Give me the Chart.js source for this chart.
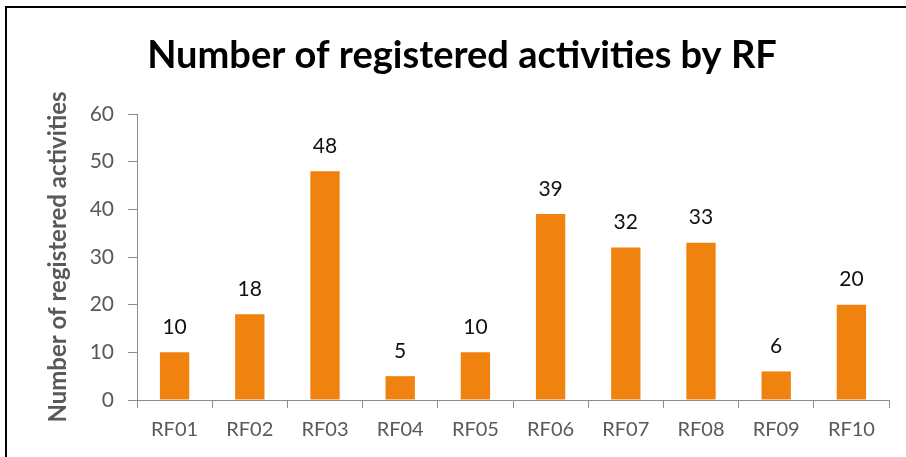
<!DOCTYPE html>
<html>
<head>
<meta charset="utf-8">
<script src="https://cdn.jsdelivr.net/npm/chart.js@4.4.1/dist/chart.umd.min.js"></script>
<style>
  html, body { margin:0; padding:0; background:#fff; overflow:hidden; }
</style>
</head>
<body>
<canvas id="chart" width="906" height="457"></canvas>
<script>
// chart data
const CATEGORIES = ["RF01","RF02","RF03","RF04","RF05","RF06","RF07","RF08","RF09","RF10"];
const ACTIVITIES = [10, 18, 48, 5, 10, 39, 32, 33, 6, 20];
const Y_TICKS = [0, 10, 20, 30, 40, 50, 60];

const TITLE = "Number of registered activities by RF";
const Y_TITLE = "Number of registered activities";
const BAR_COLOR = "#F0820F";
const AXIS_COLOR = "#8C8C8C";
const TEXT_GRAY = "#595959";
const FONT = "Lato, 'Open Sans', sans-serif";

// frame (top + left edge only), title and value labels
const labelsPlugin = {
  id: 'labels',
  beforeDraw(chart) {
    const ctx = chart.ctx;
    ctx.save();
    ctx.fillStyle = "#fff";
    ctx.fillRect(0, 0, chart.width, chart.height);
    ctx.strokeStyle = "#000";
    ctx.lineWidth = 2;
    ctx.beginPath();
    ctx.moveTo(6, chart.height);
    ctx.lineTo(6, 7);
    ctx.lineTo(chart.width, 7);
    ctx.stroke();
    ctx.restore();
  },
  afterDatasetsDraw(chart) {
    const ctx = chart.ctx;
    ctx.save();
    ctx.fillStyle = "#000";
    ctx.font = "bold 38px " + FONT;
    ctx.textAlign = "center";
    ctx.textBaseline = "alphabetic";
    ctx.fillText(TITLE, 462, 68);

    ctx.font = "21px " + FONT;
    ctx.fillStyle = "#111";
    ctx.textBaseline = "middle";
    chart.getDatasetMeta(0).data.forEach((bar, i) => {
      ctx.fillText(String(ACTIVITIES[i]), bar.x, bar.y - 25);
    });
    ctx.restore();
  }
};

new Chart(document.getElementById('chart').getContext('2d'), {
  type: 'bar',
  data: {
    labels: CATEGORIES,
    datasets: [{
      data: ACTIVITIES,
      backgroundColor: BAR_COLOR,
      categoryPercentage: 1,
      barPercentage: 0.39
    }]
  },
  options: {
    responsive: false,
    animation: false,
    layout: { padding: { top: 114, right: 17, bottom: 0, left: 44 } },
    plugins: { legend: { display: false }, tooltip: { enabled: false }, title: { display: false } },
    scales: {
      x: {
        grid: { display: true, drawOnChartArea: false, color: AXIS_COLOR, tickLength: 8, offset: true },
        border: { color: AXIS_COLOR, width: 1 },
        ticks: { color: TEXT_GRAY, font: { size: 20, family: FONT }, padding: 10, maxRotation: 0 },
        afterFit(s) { s.height = 57; }
      },
      y: {
        min: 0, max: 60,
        afterBuildTicks(s) { s.ticks = Y_TICKS.map(v => ({ value: v })); },
        grid: { display: true, drawOnChartArea: false, color: AXIS_COLOR, tickLength: 9 },
        border: { color: AXIS_COLOR, width: 1 },
        ticks: { color: TEXT_GRAY, font: { size: 21, family: FONT }, padding: 14 },
        title: { display: true, text: Y_TITLE, color: TEXT_GRAY, font: { size: 24, weight: 'bold', family: FONT }, padding: { top: 0, bottom: 0 } },
        afterFit(s) { s.width = 137 - 44; }
      }
    }
  },
  plugins: [labelsPlugin]
});
</script>
</body>
</html>
